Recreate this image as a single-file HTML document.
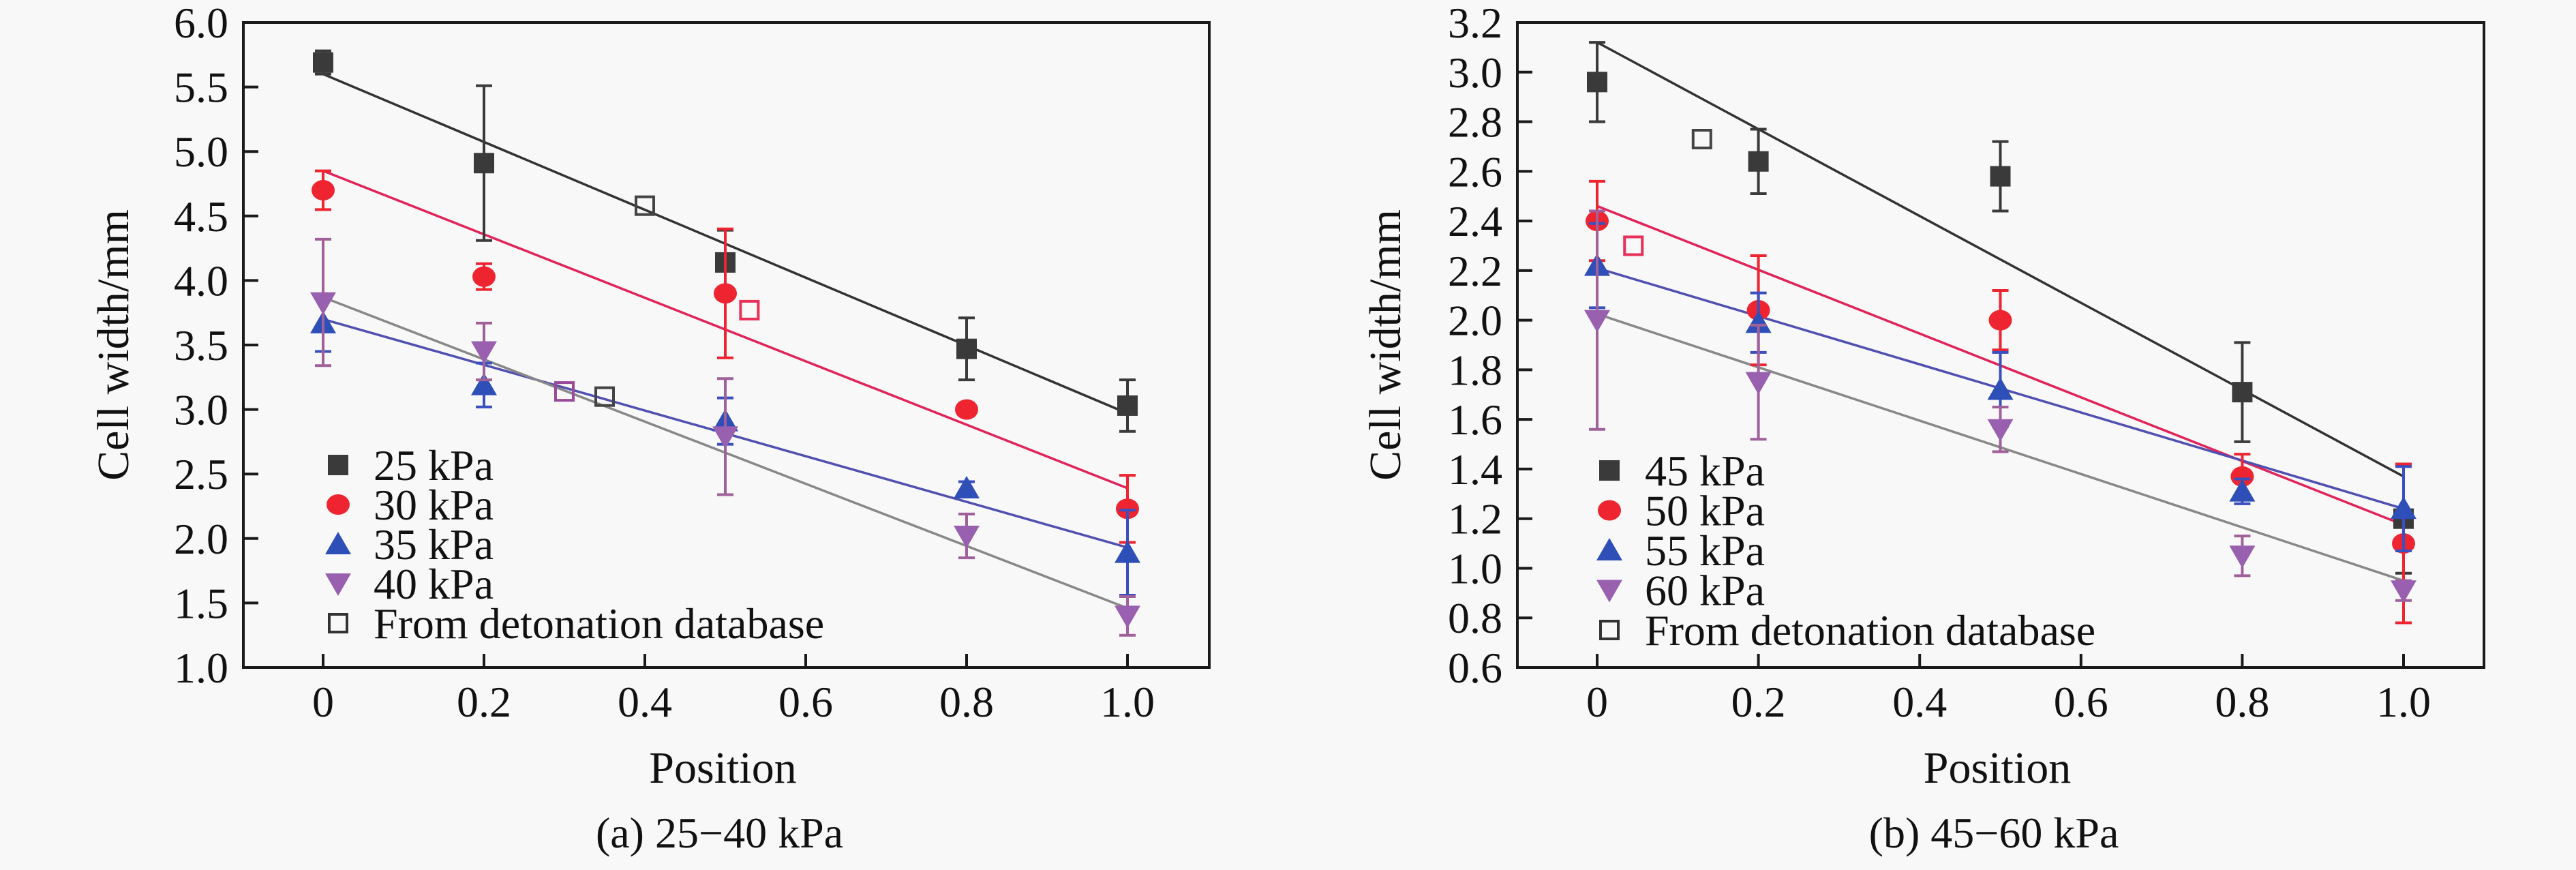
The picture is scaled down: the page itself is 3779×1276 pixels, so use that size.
<!DOCTYPE html>
<html><head><meta charset="utf-8"><style>
html,body{margin:0;padding:0;background:#f8f8f8;}
svg{display:block;font-family:"Liberation Serif","Times New Roman",serif;}
svg text{font-family:"Liberation Serif","Times New Roman",serif;}
</style></head><body>
<svg id="chart" width="3779" height="1276" viewBox="0 0 3779 1276" xmlns="http://www.w3.org/2000/svg">
<rect x="0" y="0" width="3779" height="1276" fill="#f8f8f8"/>
</svg>
<script>
// ---------- Panel (a) data ----------
const positions = [0, 0.2, 0.5, 0.8, 1.0];
const aLabels = ["25 kPa", "30 kPa", "35 kPa", "40 kPa"];
const a25 = [5.69, 4.91, 4.14, 3.47, 3.03];
const a25err = [0.09, 0.6, 0.25, 0.24, 0.2];
const a30 = [4.70, 4.03, 3.90, 3.00, 2.23];
const a30err = [0.15, 0.1, 0.5, 0.05, 0.26];
const a35 = [3.67, 3.19, 2.91, 2.39, 1.89];
const a35err = [0.22, 0.17, 0.18, 0.05, 0.33];
const a40 = [3.83, 3.45, 2.79, 2.02, 1.40];
const a40err = [0.49, 0.22, 0.45, 0.17, 0.15];
const aFitStart = [5.60, 4.85, 3.70, 3.87];
const aFitEnd = [2.97, 2.39, 1.93, 1.46];
const aDbX = [0.4, 0.53, 0.3, 0.35];
const aDbY = [4.58, 3.77, 3.14, 3.10];
const aDbColor = ["#444", "#e8305a", "#9a4a9a", "#444"];
const aYTicks = ["1.0","1.5","2.0","2.5","3.0","3.5","4.0","4.5","5.0","5.5","6.0"];
// ---------- Panel (b) data ----------
const bLabels = ["45 kPa", "50 kPa", "55 kPa", "60 kPa"];
const b45 = [2.96, 2.64, 2.58, 1.71, 1.20];
const b45err = [0.16, 0.13, 0.14, 0.2, 0.22];
const b50 = [2.40, 2.04, 2.00, 1.37, 1.10];
const b50err = [0.16, 0.22, 0.12, 0.09, 0.32];
const b55 = [2.22, 1.99, 1.72, 1.31, 1.24];
const b55err = [0.17, 0.12, 0.15, 0.05, 0.17];
const b60 = [2.00, 1.75, 1.56, 1.05, 0.91];
const b60err = [0.44, 0.23, 0.09, 0.08, 0.04];
const bFitStart = [3.12, 2.46, 2.21, 2.025];
const bFitEnd = [1.37, 1.175, 1.24, 0.95];
const bDbX = [0.13, 0.045];
const bDbY = [2.73, 2.30];
const bDbColor = ["#444", "#e8305a"];
const bYTicks = ["0.6","0.8","1.0","1.2","1.4","1.6","1.8","2.0","2.2","2.4","2.6","2.8","3.0","3.2"];
const xTicks = [0, 0.2, 0.4, 0.6, 0.8, 1.0];
const xTickLabels = ["0","0.2","0.4","0.6","0.8","1.0"];

const NS = "http://www.w3.org/2000/svg";
const svg = document.getElementById("chart");
const FONT = '"Liberation Serif","Times New Roman",serif';
function mk(tag, attrs, parent){const e=document.createElementNS(NS,tag);for(const k in attrs)e.setAttribute(k,attrs[k]);if(tag==="text")e.setAttribute("font-family",FONT);(parent||svg).appendChild(e);return e;}

const markerColors = ["#3a3a3a","#ee2530","#2f4fb8","#9a60b0"];
const errColors = ["#3a3a3a","#ee2530","#3a4fc0","#a0609a"];
const fitColors = ["#333333","#e0245a","#5050b0","#888888"];
const shapes = ["square","circle","up","down"];

function marker(g, shape, cx, cy, color, name){
  let e;
  if(shape==="square"){e=mk("rect",{x:cx-15,y:cy-15,width:30,height:30,fill:color},g);}
  else if(shape==="circle"){e=mk("ellipse",{cx:cx,cy:cy,rx:17,ry:15,fill:color},g);}
  else if(shape==="up"){e=mk("polygon",{points:`${cx},${cy-18} ${cx-19},${cy+15} ${cx+19},${cy+15}`,fill:color},g);}
  else if(shape==="down"){e=mk("polygon",{points:`${cx},${cy+18} ${cx-19},${cy-15} ${cx+19},${cy-15}`,fill:color},g);}
  else {e=mk("rect",{x:cx-13,y:cy-13,width:26,height:26,fill:"none",stroke:color,"stroke-width":4},g);}
  
  
  return e;
}

function panel(cfg){
  const {left,right,top,bottom,x0px,x1px,ymin,ymax,yTicks,series,errs,labels,fitS,fitE,dbX,dbY,dbC,legX,legY,legStep,caption,yTitleX,id} = cfg;
  const sx = v => x0px + (x1px-x0px)*v;
  const sy = v => bottom - (bottom-top)*(v-ymin)/(ymax-ymin);
  const g = mk("g",{});
  
  
  const fr = mk("rect",{x:left,y:top,width:right-left,height:bottom-top,fill:"none",stroke:"#1a1a1a","stroke-width":4},g);
  
  
  yTicks.forEach(t=>{
    const v=parseFloat(t), y=sy(v);
    const tl=mk("line",{x1:left,y1:y,x2:left+22,y2:y,stroke:"#1a1a1a","stroke-width":4},g);
    
    
    const tx=mk("text",{x:left-22,y:y+22,"font-size":64,"text-anchor":"end",fill:"#111"},g);
    tx.textContent=t;
    
    
  });
  xTicks.forEach((v,i)=>{
    const x=sx(v);
    const tl=mk("line",{x1:x,y1:bottom,x2:x,y2:bottom-20,stroke:"#1a1a1a","stroke-width":4},g);
    
    
    const tx=mk("text",{x:x,y:bottom+72,"font-size":64,"text-anchor":"middle",fill:"#111"},g);
    tx.textContent=xTickLabels[i];
    
    
  });
  fitS.forEach((s,i)=>{
    const l=mk("line",{x1:sx(0),y1:sy(s),x2:sx(1),y2:sy(fitE[i]),stroke:fitColors[i],"stroke-width":3.5},g);
    
    
  });
  series.forEach((arr,si)=>{
    arr.forEach((v,pi)=>{
      const x=sx(positions[pi]), e=errs[si][pi];
      const y1=sy(v+e), y2=sy(v-e);
      const eb=mk("path",{d:`M${x},${y1}V${y2}M${x-12},${y1}H${x+12}M${x-12},${y2}H${x+12}`,stroke:errColors[si],"stroke-width":4,fill:"none"},g);
      
      
      marker(g, shapes[si], x, sy(v), markerColors[si], 'point-'+labels[si].replace(' ','-').toLowerCase());
    });
  });
  dbX.forEach((v,i)=>{ marker(g,"open",sx(v),sy(dbY[i]),dbC[i],'database-point'); });
  const leg = labels.concat(["From detonation database"]);
  leg.forEach((t,i)=>{
    const y=legY+i*legStep;
    marker(g, i<4?shapes[i]:"open", legX, y, i<4?markerColors[i]:"#333", 'legend-marker');
    const tx=mk("text",{x:legX+52,y:y+22,"font-size":64,fill:"#111"},g);
    tx.textContent=t;
    
    
  });
  const xt=mk("text",{x:(left+right)/2-5,y:1148,"font-size":66,"text-anchor":"middle",fill:"#111"},g);
  xt.textContent="Position";
  
  
  const yt=mk("text",{x:0,y:0,"font-size":66,"text-anchor":"middle",fill:"#111",transform:`translate(${yTitleX},${(top+bottom)/2}) rotate(-90)`},g);
  yt.textContent="Cell width/mm";
  
  
  const cp=mk("text",{x:(left+right)/2-10,y:1243,"font-size":64,"text-anchor":"middle",fill:"#111"},g);
  cp.textContent=caption;
  
  
}

panel({id:"a",left:357,right:1774,top:33,bottom:979,x0px:474,x1px:1654,ymin:1.0,ymax:6.0,yTicks:aYTicks,
  series:[a25,a30,a35,a40],errs:[a25err,a30err,a35err,a40err],labels:aLabels,fitS:aFitStart,fitE:aFitEnd,
  dbX:aDbX,dbY:aDbY,dbC:aDbColor,legX:496,legY:682,legStep:58,caption:"(a) 25\u221240 kPa",yTitleX:188});
panel({id:"b",left:2226,right:3644,top:33,bottom:979,x0px:2343,x1px:3526,ymin:0.6,ymax:3.2,yTicks:bYTicks,
  series:[b45,b50,b55,b60],errs:[b45err,b50err,b55err,b60err],labels:bLabels,fitS:bFitStart,fitE:bFitEnd,
  dbX:bDbX,dbY:bDbY,dbC:bDbColor,legX:2361,legY:690,legStep:58.5,caption:"(b) 45\u221260 kPa",yTitleX:2054});
</script>
</body></html>
